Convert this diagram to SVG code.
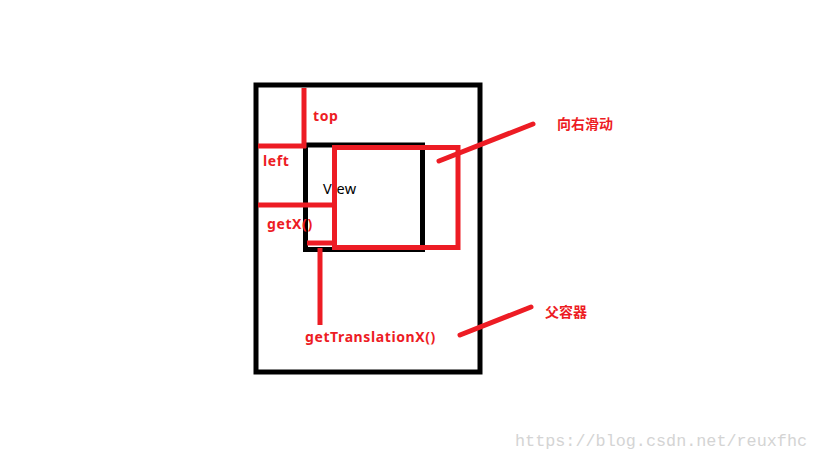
<svg xmlns="http://www.w3.org/2000/svg" width="819" height="460" viewBox="0 0 819 460">
<style>
.blk{fill:none;stroke:#000;stroke-width:5}
.red{fill:none;stroke:#ED1C24;stroke-width:5}
.rl{fill:none;stroke:#ED1C24;stroke-width:5;stroke-linecap:round}
.lbl{font-family:"Noto Sans","Noto Sans CJK SC",sans-serif;font-weight:bold;font-size:14px;letter-spacing:0.6px;fill:#ED1C24}
.cjk{font-family:"Noto Sans CJK SC",sans-serif;font-weight:bold;font-size:14px;fill:#ED1C24}
</style>
<rect width="819" height="460" fill="#fff"/>
<g id="parent">
<rect class="blk" x="256" y="85" width="224" height="287"/>
<text class="cjk" x="545" y="317">父容器</text>
</g>
<g id="view">
<rect class="blk" x="305.5" y="145" width="117" height="104.5"/>
<text x="323" y="194" font-family="Noto Sans, sans-serif" font-size="14.5" letter-spacing="0.5" fill="#000">View</text>
</g>
<g id="moved">
<rect class="red" x="334.5" y="147.5" width="123.5" height="100"/>
<text class="cjk" x="557" y="129">向右滑动</text>
</g>
<g id="connectors">
<line class="red" x1="304" y1="88" x2="304" y2="148"/>
<line class="red" x1="258" y1="146" x2="306" y2="146"/>
<line class="red" x1="258" y1="205" x2="334" y2="205"/>
<line class="red" x1="307" y1="243" x2="337" y2="243"/>
<line class="red" x1="320" y1="248" x2="320" y2="325"/>
<line class="rl" x1="439" y1="161" x2="533" y2="124"/>
<line class="rl" x1="460" y1="335" x2="531" y2="307"/>
</g>
<g id="labels">
<text class="lbl" x="313" y="121">top</text>
<text class="lbl" x="263" y="166">left</text>
<text class="lbl" x="267" y="229">getX()</text>
<text class="lbl" x="305" y="342">getTranslationX()</text>
</g>
<text x="515" y="446" font-family="Liberation Mono, monospace" font-size="16.8" fill="#d4d4d4">https://blog.csdn.net/reuxfhc</text>
</svg>
